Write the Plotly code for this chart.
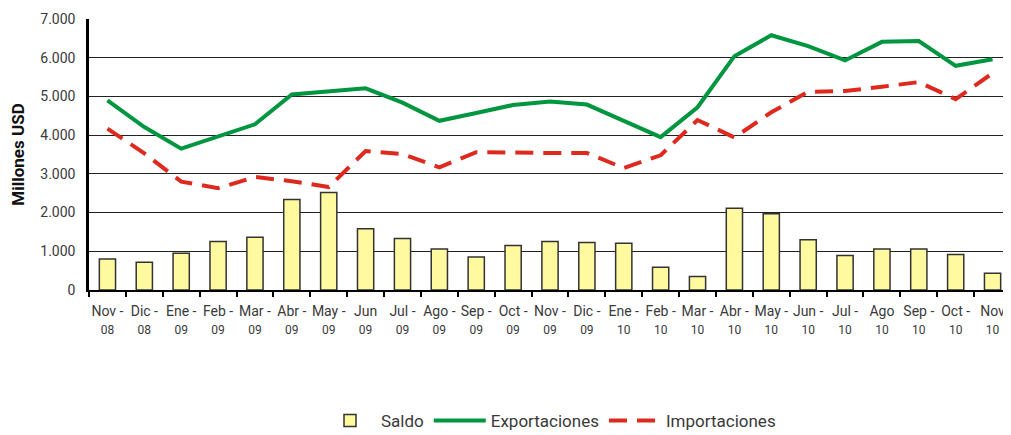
import plotly.graph_objects as go

months = ["Nov", "Dic", "Ene", "Feb", "Mar", "Abr", "May", "Jun", "Jul", "Ago", "Sep", "Oct", "Nov",
          "Dic", "Ene", "Feb", "Mar", "Abr", "May", "Jun", "Jul", "Ago", "Sep", "Oct", "Nov"]
years = ["08", "08", "09", "09", "09", "09", "09", "09", "09", "09", "09", "09", "09",
         "09", "10", "10", "10", "10", "10", "10", "10", "10", "10", "10", "10"]
dash_after = [True, True, True, True, True, True, True, False, True, True, True, True, True,
              True, True, True, True, True, True, True, True, False, True, True, False]

saldo = [800, 720, 950, 1250, 1360, 2340, 2520, 1580, 1330, 1060, 850, 1150, 1250,
         1230, 1210, 590, 350, 2110, 1970, 1300, 890, 1060, 1060, 920, 430]
exportaciones = [4900, 4210, 3650, 3960, 4280, 5050, 5120, 5210, 4840, 4370, 4570, 4780, 4870,
                 4790, 4370, 3950, 4720, 6040, 6580, 6300, 5930, 6410, 6430, 5790, 5960]
importaciones = [4170, 3530, 2800, 2630, 2920, 2810, 2660, 3590, 3510, 3170, 3560, 3540, 3540,
                 3540, 3150, 3480, 4390, 3940, 4590, 5120, 5140, 5250, 5370, 4930, 5600]

cats = [f"{m} {y} #{i}" for i, (m, y) in enumerate(zip(months, years))]
ticktext = [f"{m}{' -' if d else ''}<br><span style='font-size:12px'>{y}</span>"
            for m, y, d in zip(months, years, dash_after)]

FONT = "Roboto, Liberation Sans, sans-serif"
TXT = "#3a3a3a"

fig = go.Figure()
fig.add_trace(go.Bar(x=cats, y=saldo, name="Saldo",
                     marker=dict(color="#FFF9A0", line=dict(color="#333333", width=1.5))))
fig.add_trace(go.Scatter(x=cats, y=exportaciones, name="Exportaciones", mode="lines",
                         line=dict(color="#00963F", width=4)))
fig.add_trace(go.Scatter(x=cats, y=importaciones, name="Importaciones", mode="lines",
                         line=dict(color="#DE2A1E", width=4, dash="18px,10px")))

# the page body has an 8px default margin, so the figure is sized to fill the rest of the window
fig.update_layout(
    width=1003, height=427,
    margin=dict(l=81, r=0, t=11, b=145),
    paper_bgcolor="white", plot_bgcolor="white",
    separators=",.",
    font=dict(family=FONT, color=TXT, size=14),
    bargap=0.56,
    showlegend=True,
    legend=dict(orientation="h", x=0.5, xanchor="center", yref="container", y=0.033,
                yanchor="middle", font=dict(size=17, color=TXT), traceorder="normal", itemwidth=52),
    xaxis=dict(type="category", tickmode="array", tickvals=cats, ticktext=ticktext,
               tickson="boundaries", ticks="outside", ticklen=5, tickcolor="black", tickwidth=1.5,
               showline=True, linecolor="black", linewidth=2, showgrid=False, automargin=False,
               ticklabelstandoff=7,
               tickfont=dict(size=14, color=TXT), tickangle=0),
    yaxis=dict(range=[0, 7000], dtick=1000, tickformat=",d", showgrid=True,
               gridcolor="#222222", gridwidth=1, showline=True, linecolor="black", linewidth=2.5,
               ticks="", ticklabelstandoff=8, zeroline=False, automargin=False,
               tickfont=dict(size=14, color=TXT),
               title=dict(text="<b>Millones USD</b>", font=dict(size=17, color="#111111"), standoff=15)),
)

fig.write_html("out.html")
